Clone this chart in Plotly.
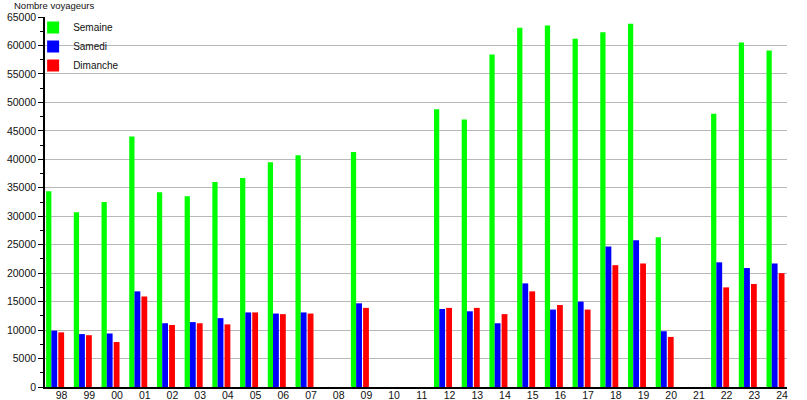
import plotly.graph_objects as go

years = ["98", "99", "00", "01", "02", "03", "04", "05", "06", "07", "08", "09", "10",
         "11", "12", "13", "14", "15", "16", "17", "18", "19", "20", "21", "22", "23", "24"]
semaine = [34400, 30700, 32500, 44000, 34200, 33500, 36000, 36700, 39500, 40700, None, 41300, None,
           None, 48800, 47000, 58400, 63100, 63500, 61200, 62300, 63800, 26300, None, 48000, 60500, 59100]
samedi = [9900, 9300, 9400, 16800, 11200, 11400, 12100, 13100, 12900, 13100, None, 14700, None,
          None, 13700, 13300, 11200, 18200, 13600, 15000, 24700, 25800, 9800, None, 21900, 20900, 21700]
dimanche = [9600, 9100, 7900, 15900, 10900, 11200, 11000, 13100, 12800, 12900, None, 13900, None,
            None, 13900, 13900, 12800, 16800, 14400, 13600, 21400, 21700, 8800, None, 17500, 18100, 20000]

series = [("Semaine", semaine, "#00ff00", -0.56, 0.19),
          ("Samedi", samedi, "#0000ff", -0.37, 0.21),
          ("Dimanche", dimanche, "#ff0000", -0.12, 0.21)]

FONT = "Liberation Sans, Arial, sans-serif"

fig = go.Figure()
for name, vals, col, off, w in series:
    fig.add_trace(go.Bar(x=years, y=vals, name=name, marker=dict(color=col, line=dict(width=0)),
                         offset=off, width=w))

fig.update_layout(
    width=807, height=400,
    margin=dict(l=45, r=20, t=17, b=13, autoexpand=False),
    paper_bgcolor="white", plot_bgcolor="white",
    barmode="overlay",
    showlegend=True,
    font=dict(family=FONT, size=10, color="#111111"),
    legend=dict(x=-0.016, y=1.011, xanchor="left", yanchor="top",
                bgcolor="rgba(0,0,0,0)", font=dict(size=10, color="#111111"),
                itemwidth=30, tracegroupgap=0),
    xaxis=dict(type="category", range=[-0.6, 26.18], showgrid=False, ticks="",
               showline=True, linecolor="black", linewidth=1.5, automargin=False,
               ticklabelstandoff=-2,
               tickfont=dict(size=10.5, color="#111111"), fixedrange=True),
    yaxis=dict(range=[0, 65000], dtick=5000, tick0=0, showgrid=True, gridcolor="#b8b8b8",
               gridwidth=1, zeroline=False, showline=True, linecolor="black", linewidth=1.5,
               ticks="outside", ticklen=5, tickcolor="black", tickwidth=1,
               minor=dict(dtick=2500, ticks="outside", ticklen=3, tickcolor="black", showgrid=False),
               tickfont=dict(size=10.5, color="#111111"), automargin=False, tickformat="d"),
    annotations=[dict(text="Nombre voyageurs", xref="paper", yref="paper",
                      x=-0.045, y=1.031, xanchor="left", yanchor="middle", showarrow=False,
                      font=dict(size=9.5, color="#111111"))],
)

fig.write_html("out.html", config={"displayModeBar": False},
               post_script="document.body.style.margin='0px';document.body.style.padding='0px';")
